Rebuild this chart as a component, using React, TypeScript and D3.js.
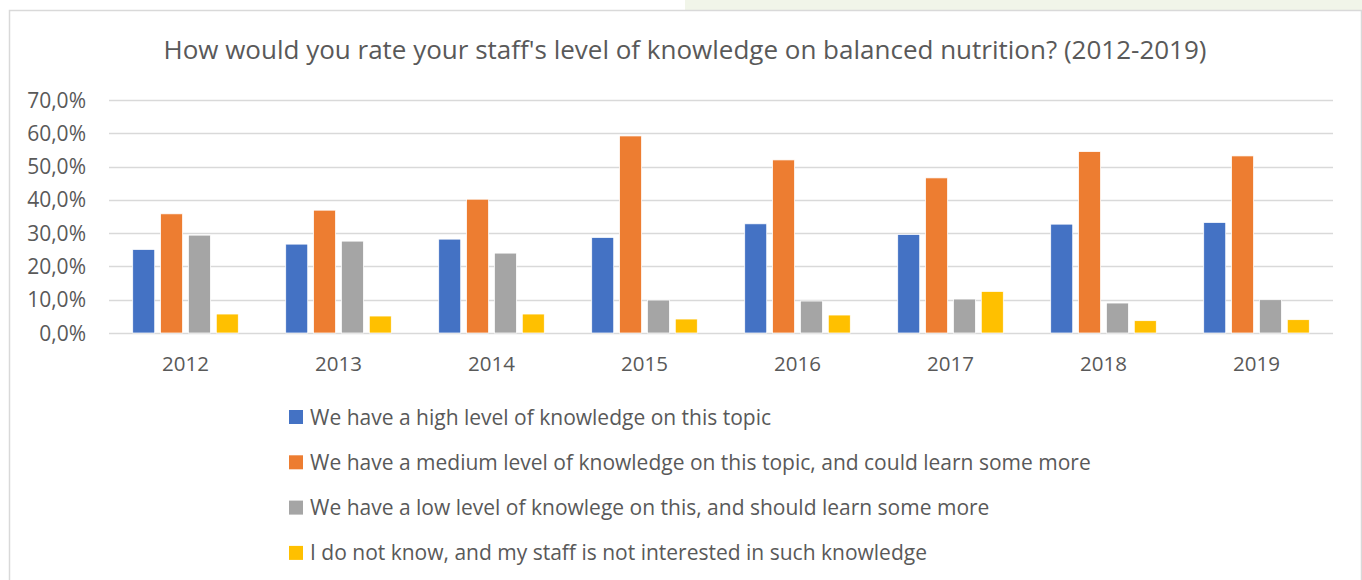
import React, { useEffect, useRef } from 'react';
import * as d3 from 'd3';

// years on the x axis
const years = ['2012', '2013', '2014', '2015', '2016', '2017', '2018', '2019'];

// answer series (share of respondents, %)
const seriesNames = [
  'We have a high level of knowledge on this topic',
  'We have a medium level of knowledge on this topic, and could learn some more',
  'We have a low level of knowlege on this, and should learn some more',
  'I do not know, and my staff is not interested in such knowledge',
];
const highValues = [25.1, 26.7, 28.2, 28.7, 32.8, 29.6, 32.7, 33.2];
const mediumValues = [35.8, 36.9, 40.2, 59.2, 52.0, 46.6, 54.5, 53.2];
const lowValues = [29.4, 27.6, 24.0, 9.9, 9.6, 10.2, 9.0, 10.0];
const unknownValues = [5.7, 5.1, 5.7, 4.2, 5.4, 12.5, 3.7, 4.0];
const yTicks = [0, 10, 20, 30, 40, 50, 60, 70];

const colors = ['#4472C4', '#ED7D31', '#A5A5A5', '#FFC000'];
const title = "How would you rate your staff's level of knowledge on balanced nutrition? (2012-2019)";

export default function App() {
  const ref = useRef<SVGSVGElement>(null);

  useEffect(() => {
    const width = 1362;
    const height = 580;
    // plot area
    const padding = { left: 109, right: 29, top: 100, bottom: 247 };
    const font = "'Open Sans', sans-serif";
    const textColor = '#595959';

    const svg = d3.select(ref.current);
    svg.selectAll('*').remove();
    svg.attr('width', width).attr('height', height);

    // light green strip above the chart frame
    svg.append('rect')
      .attr('x', 685).attr('y', 0).attr('width', width - 685).attr('height', 10)
      .attr('fill', '#f1f5e9');

    // chart frame
    svg.append('path')
      .attr('d', `M9.5,${height} V10.5 H1361.5 V${height}`)
      .attr('fill', 'none')
      .attr('stroke', '#d9d9d9')
      .attr('stroke-width', 1.5);

    svg.append('text')
      .attr('x', 685).attr('y', 59)
      .attr('text-anchor', 'middle')
      .attr('font-family', font)
      .attr('font-size', 26)
      .attr('fill', textColor)
      .text(title);

    const data = [highValues, mediumValues, lowValues, unknownValues];

    const x0 = d3.scaleBand<string>()
      .domain(years)
      .range([padding.left, width - padding.right]);
    const groupWidth = x0.bandwidth() * 0.69;
    const x1 = d3.scaleBand<number>()
      .domain(d3.range(data.length))
      .range([0, groupWidth])
      .paddingInner(0.21);
    const y = d3.scaleLinear()
      .domain([0, 70])
      .range([height - padding.bottom, padding.top]);

    // gridlines
    svg.append('g').selectAll('line')
      .data(yTicks)
      .enter()
      .append('line')
      .attr('x1', padding.left)
      .attr('x2', width - padding.right)
      .attr('y1', (d) => Math.round(y(d)) + 0.5)
      .attr('y2', (d) => Math.round(y(d)) + 0.5)
      .attr('stroke', '#d9d9d9')
      .attr('stroke-width', 1.5);

    // y labels
    svg.append('g').selectAll('text')
      .data(yTicks)
      .enter()
      .append('text')
      .attr('x', 86)
      .attr('y', (d) => y(d))
      .attr('dy', '0.36em')
      .attr('text-anchor', 'end')
      .attr('font-family', font)
      .attr('font-size', 21)
      .attr('fill', textColor)
      .text((d) => d.toFixed(1).replace('.', ',') + '%');

    // bars
    const groups = svg.append('g').selectAll('g')
      .data(years)
      .enter()
      .append('g')
      .attr('transform', (d) => `translate(${x0(d)! + (x0.bandwidth() - groupWidth) / 2},0)`);

    groups.selectAll('rect')
      .data((d, i) => data.map((s, k) => ({ k, v: s[i] })))
      .enter()
      .append('rect')
      .attr('x', (d) => x1(d.k)!)
      .attr('y', (d) => y(d.v))
      .attr('width', x1.bandwidth())
      .attr('height', (d) => y(0) - y(d.v))
      .attr('fill', (d) => colors[d.k])
      .attr('stroke', '#ffffff')
      .attr('stroke-width', 0.75);

    // x labels
    svg.append('g').selectAll('text')
      .data(years)
      .enter()
      .append('text')
      .attr('x', (d) => x0(d)! + x0.bandwidth() / 2)
      .attr('y', 371)
      .attr('text-anchor', 'middle')
      .attr('font-family', font)
      .attr('font-size', 20.5)
      .attr('fill', textColor)
      .text((d) => d);

    // legend
    const legend = svg.append('g').selectAll('g')
      .data(seriesNames)
      .enter()
      .append('g')
      .attr('transform', (d, i) => `translate(289,${417 + i * 45.3})`);
    legend.append('rect')
      .attr('x', 0).attr('y', -7)
      .attr('width', 14).attr('height', 14)
      .attr('fill', (d, i) => colors[i]);
    legend.append('text')
      .attr('x', 21)
      .attr('dy', '0.36em')
      .attr('font-family', font)
      .attr('font-size', 21)
      .attr('fill', textColor)
      .text((d) => d);
  }, []);

  return (
    <div style={{ position: 'absolute', left: 0, top: 0 }}>
      <svg ref={ref} style={{ display: 'block' }} />
    </div>
  );
}
